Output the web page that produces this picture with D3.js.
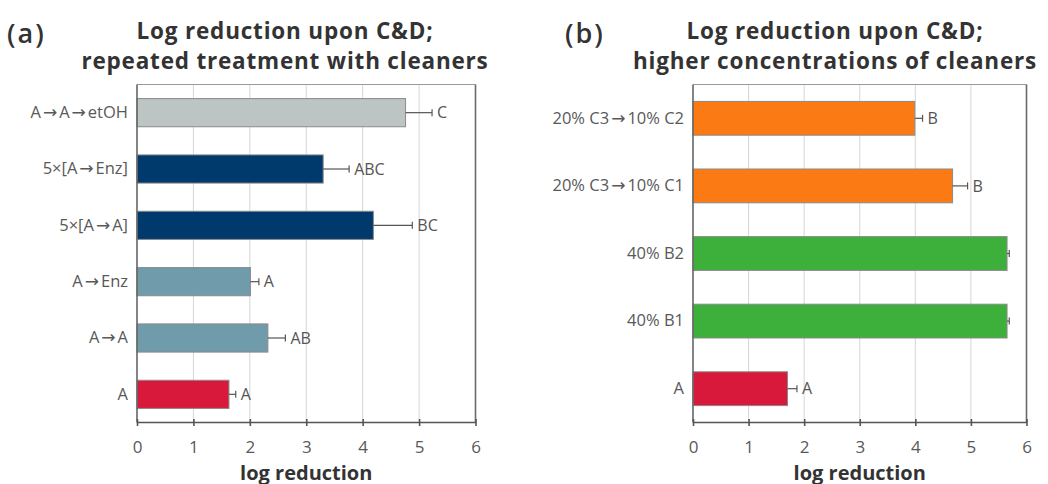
<!DOCTYPE html>
<html>
<head>
<meta charset="utf-8">
<script src="https://cdn.jsdelivr.net/npm/d3@7"></script>
<style>
  html, body { margin: 0; padding: 0; background: #fff; }
  svg { display: block; font-family: "Open Sans", Lato, sans-serif; }
</style>
</head>
<body>
<svg id="chart" width="1048" height="484"></svg>
<script>
// Panel (a): repeated treatment with cleaners
const catsA = ["A\u2192A\u2192etOH", "5\u00d7[A\u2192Enz]", "5\u00d7[A\u2192A]", "A\u2192Enz", "A\u2192A", "A"];
const valsA = [4.76, 3.30, 4.19, 2.01, 2.32, 1.63];
const errsA = [0.47, 0.46, 0.69, 0.15, 0.31, 0.12];
const lettersA = ["C", "ABC", "BC", "A", "AB", "A"];
const colorsA = ["#bcc4c4", "#003a6c", "#003a6c", "#6f9bab", "#6f9bab", "#d9193b"];

// Panel (b): higher concentrations of cleaners
const catsB = ["20% C3\u219210% C2", "20% C3\u219210% C1", "40% B2", "40% B1", "A"];
const valsB = [3.99, 4.67, 5.65, 5.65, 1.70];
const errsB = [0.14, 0.27, 0.04, 0.04, 0.17];
const lettersB = ["B", "B", "", "", "A"];
const colorsB = ["#fc7a13", "#fc7a13", "#3daf3b", "#3daf3b", "#d9193b"];

const xTicks = [0, 1, 2, 3, 4, 5, 6];

const FONT = "'Open Sans', Lato, sans-serif";
const svg = d3.select("#chart");

// split a label so the arrow glyphs get a little breathing room
function arrowSpans(sel) {
  sel.each(function () {
    const t = d3.select(this);
    const parts = t.text().split(/(\u2192)/);
    t.text(null);
    let afterArrow = false;
    parts.forEach(p => {
      if (!p) return;
      const s = t.append("tspan").text(p);
      if (p === "\u2192") {
        s.attr("font-family", "'DejaVu Sans', sans-serif").attr("font-size", 17).attr("dx", 2);
        afterArrow = true;
      } else if (afterArrow) {
        s.attr("dx", 2);
        afterArrow = false;
      }
    });
  });
}

function panel(opt) {
  const g = svg.append("g");
  const x = d3.scaleLinear().domain([0, 6]).range([opt.x0, opt.x1]);
  const y = d3.scaleBand().domain(opt.cats).range([opt.y0, opt.y1])
    .paddingInner(0.5).paddingOuter(0.25);

  // vertical gridlines
  g.selectAll("line.grid").data(xTicks.slice(1, -1)).join("line")
    .attr("x1", d => x(d)).attr("x2", d => x(d))
    .attr("y1", opt.y0).attr("y2", opt.y1)
    .attr("stroke", "#d6d6d6").attr("stroke-width", 1);

  // frame: top and right borders
  g.append("line").attr("x1", opt.x0).attr("x2", opt.x1)
    .attr("y1", opt.y0).attr("y2", opt.y0)
    .attr("stroke", "#9a9a9a").attr("stroke-width", 1.2);
  g.append("line").attr("x1", opt.x1).attr("x2", opt.x1)
    .attr("y1", opt.y0).attr("y2", opt.y1)
    .attr("stroke", "#6a6a6a").attr("stroke-width", 1.6);

  // bars
  g.selectAll("rect.bar").data(opt.vals).join("rect")
    .attr("x", x(0))
    .attr("y", (d, i) => y(opt.cats[i]))
    .attr("width", d => x(d) - x(0))
    .attr("height", y.bandwidth())
    .attr("fill", (d, i) => opt.colors[i])
    .attr("stroke", "#8a8a8a").attr("stroke-width", 1);

  // error bars
  const eb = g.selectAll("g.err").data(opt.vals).join("g");
  eb.append("line")
    .attr("x1", d => x(d))
    .attr("x2", (d, i) => x(d + opt.errs[i]))
    .attr("y1", (d, i) => y(opt.cats[i]) + y.bandwidth() / 2)
    .attr("y2", (d, i) => y(opt.cats[i]) + y.bandwidth() / 2)
    .attr("stroke", "#555").attr("stroke-width", 1.2);
  eb.append("line")
    .attr("x1", (d, i) => x(d + opt.errs[i]))
    .attr("x2", (d, i) => x(d + opt.errs[i]))
    .attr("y1", (d, i) => y(opt.cats[i]) + y.bandwidth() / 2 - 3.5)
    .attr("y2", (d, i) => y(opt.cats[i]) + y.bandwidth() / 2 + 3.5)
    .attr("stroke", "#555").attr("stroke-width", 1.2);

  // significance letters
  g.selectAll("text.letter").data(opt.vals).join("text")
    .attr("x", (d, i) => x(d + opt.errs[i]) + 5)
    .attr("y", (d, i) => y(opt.cats[i]) + y.bandwidth() / 2)
    .attr("dy", "0.36em")
    .attr("font-size", 16).attr("fill", "#555")
    .text((d, i) => opt.letters[i]);

  // left axis with category labels
  const yAxis = g.append("g").attr("transform", `translate(${opt.x0},0)`)
    .call(d3.axisLeft(y).tickSize(0).tickPadding(9));
  yAxis.select(".domain").attr("stroke", "#666").attr("stroke-width", 1.6)
    .attr("d", `M0,${opt.y0}V${opt.y1}`);
  yAxis.selectAll("text").attr("font-size", 16.5).attr("fill", "#595959")
    .attr("font-family", FONT).call(arrowSpans);

  // bottom axis with crossing ticks
  const xAxis = g.append("g").attr("transform", `translate(0,${opt.y1})`)
    .call(d3.axisBottom(x).tickValues(xTicks).tickFormat(d3.format("d"))
      .tickSize(3.5).tickPadding(15));
  xAxis.select(".domain").attr("stroke", "#555").attr("stroke-width", 1.6)
    .attr("d", `M${opt.x0},0H${opt.x1}`);
  xAxis.selectAll(".tick line").attr("y1", -3.5).attr("stroke", "#555").attr("stroke-width", 1.6);
  xAxis.selectAll("text").attr("font-size", 17).attr("fill", "#595959")
    .attr("font-family", FONT);

  // axis title
  g.append("text").attr("x", (opt.x0 + opt.x1) / 2).attr("y", 479.5)
    .attr("text-anchor", "middle").attr("font-size", 20).attr("font-weight", 700)
    .attr("fill", "#333").text("log reduction");

  // panel letter
  g.append("text").attr("x", opt.tagX).attr("y", 43)
    .attr("font-size", 27).attr("font-weight", 600).attr("fill", "#333")
    .attr("letter-spacing", 2)
    .text(opt.tag);

  // two-line panel title
  const title = g.append("text").attr("text-anchor", "middle")
    .attr("font-size", 22.5).attr("font-weight", 700).attr("fill", "#333")
    .attr("letter-spacing", 0.8);
  title.append("tspan").attr("x", opt.titleX).attr("y", 38.5).text(opt.title[0]);
  title.append("tspan").attr("x", opt.titleX).attr("y", 69).text(opt.title[1]);
}

panel({
  cats: catsA, vals: valsA, errs: errsA, letters: lettersA, colors: colorsA,
  x0: 137, x1: 475.5, y0: 84.5, y1: 422.5,
  tag: "(a)", tagX: 7, titleX: 285,
  title: ["Log reduction upon C&D;", "repeated treatment with cleaners"]
});

panel({
  cats: catsB, vals: valsB, errs: errsB, letters: lettersB, colors: colorsB,
  x0: 693, x1: 1026.5, y0: 84.5, y1: 422.5,
  tag: "(b)", tagX: 565, titleX: 835,
  title: ["Log reduction upon C&D;", "higher concentrations of cleaners"]
});
</script>
</body>
</html>
